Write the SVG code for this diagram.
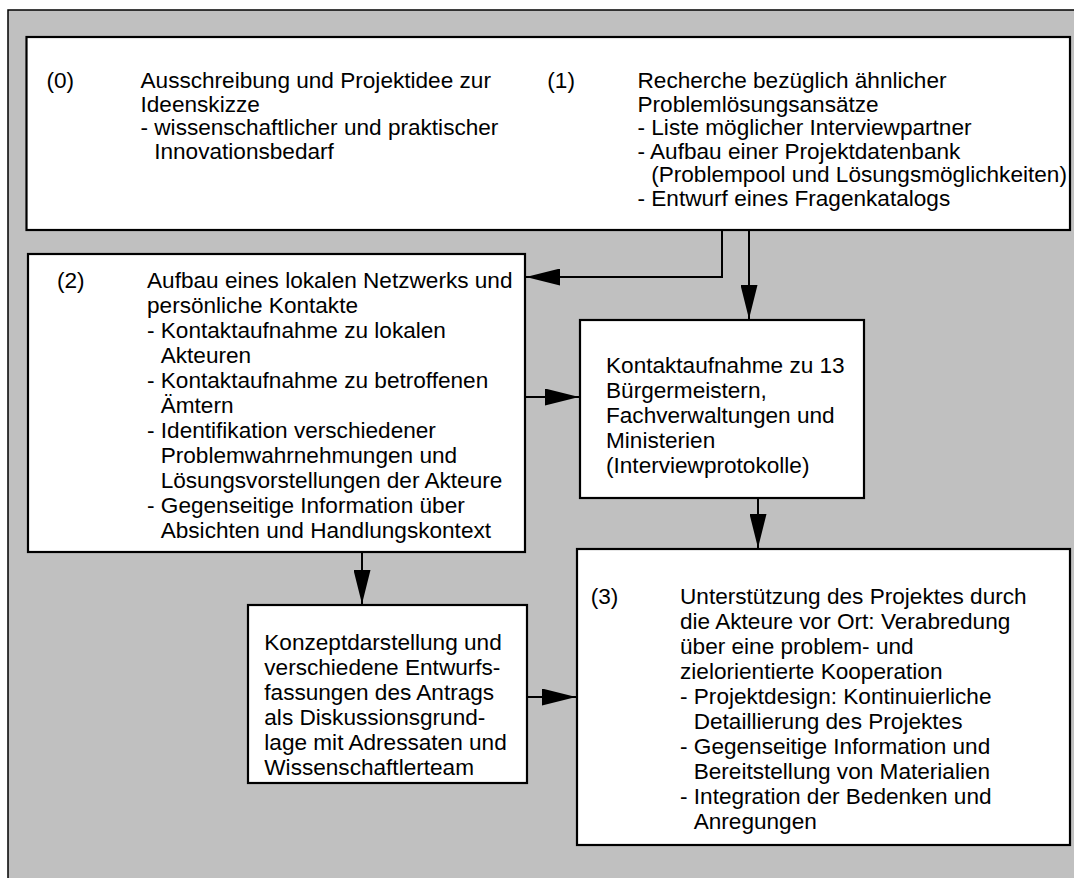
<svg xmlns="http://www.w3.org/2000/svg" width="1074" height="878" viewBox="0 0 1074 878">
<style>
.bg{fill:#c0c0c0;stroke:#000;stroke-width:1.5}
.box{fill:#fff;stroke:#000;stroke-width:2.2}
.t{font-family:"Liberation Sans",Arial,sans-serif;font-size:22.6px;fill:#000}
.c{fill:none;stroke:#000;stroke-width:2}
</style>
<defs>
<marker id="ah" markerUnits="userSpaceOnUse" markerWidth="34" markerHeight="17" refX="34" refY="8.5" orient="auto">
<path d="M0,0 L34,8.5 L0,17 z" fill="#000"/>
</marker>
</defs>
<rect width="1074" height="878" fill="#fff"/>
<rect class="bg" x="8" y="10" width="1080" height="880"/>

<g id="connectors">
<polyline class="c" points="722,226 722,277 526,277" marker-end="url(#ah)"/>
<line class="c" x1="749" y1="226" x2="749" y2="319" marker-end="url(#ah)"/>
<line class="c" x1="525" y1="397" x2="579" y2="397" marker-end="url(#ah)"/>
<line class="c" x1="758" y1="498" x2="758" y2="548" marker-end="url(#ah)"/>
<line class="c" x1="362" y1="539" x2="362" y2="604" marker-end="url(#ah)"/>
<line class="c" x1="527" y1="697" x2="576" y2="697" marker-end="url(#ah)"/>
</g>

<g id="node-0-1">
<rect class="box" x="26.5" y="37" width="1043.5" height="193"/>
<text class="t" x="46.5" y="88">(0)</text>
<text class="t">
<tspan x="140.5" y="88">Ausschreibung und Projektidee zur</tspan>
<tspan x="140.5" y="111.5">Ideenskizze</tspan>
<tspan x="140.5" y="135">- wissenschaftlicher und praktischer</tspan>
<tspan x="154.2" y="158.5">Innovationsbedarf</tspan>
</text>
<text class="t" x="547.3" y="88">(1)</text>
<text class="t">
<tspan x="637.5" y="88">Recherche bezüglich ähnlicher</tspan>
<tspan x="637.5" y="111.5">Problemlösungsansätze</tspan>
<tspan x="637.5" y="135">- Liste möglicher Interviewpartner</tspan>
<tspan x="637.5" y="158.5">- Aufbau einer Projektdatenbank</tspan>
<tspan x="651.2" y="182">(Problempool und Lösungsmöglichkeiten)</tspan>
<tspan x="637.5" y="205.5">- Entwurf eines Fragenkatalogs</tspan>
</text>
</g>

<g id="node-2">
<rect class="box" x="28" y="254" width="497" height="298"/>
<text class="t" x="57" y="288">(2)</text>
<text class="t">
<tspan x="147" y="288">Aufbau eines lokalen Netzwerks und</tspan>
<tspan x="147" y="313">persönliche Kontakte</tspan>
<tspan x="147" y="338">- Kontaktaufnahme zu lokalen</tspan>
<tspan x="160.7" y="363">Akteuren</tspan>
<tspan x="147" y="388">- Kontaktaufnahme zu betroffenen</tspan>
<tspan x="160.7" y="413">Ämtern</tspan>
<tspan x="147" y="438">- Identifikation verschiedener</tspan>
<tspan x="160.7" y="463">Problemwahrnehmungen und</tspan>
<tspan x="160.7" y="488">Lösungsvorstellungen der Akteure</tspan>
<tspan x="147" y="513">- Gegenseitige Information über</tspan>
<tspan x="160.7" y="538">Absichten und Handlungskontext</tspan>
</text>
</g>

<g id="node-kontakt">
<rect class="box" x="580" y="320" width="284" height="178"/>
<text class="t">
<tspan x="606" y="373">Kontaktaufnahme zu 13</tspan>
<tspan x="606" y="398">Bürgermeistern,</tspan>
<tspan x="606" y="423">Fachverwaltungen und</tspan>
<tspan x="606" y="448">Ministerien</tspan>
<tspan x="606" y="473">(Interviewprotokolle)</tspan>
</text>
</g>

<g id="node-konzept">
<rect class="box" x="248" y="605" width="279" height="178"/>
<text class="t">
<tspan x="264.3" y="650">Konzeptdarstellung und</tspan>
<tspan x="264.3" y="675">verschiedene Entwurfs-</tspan>
<tspan x="264.3" y="700">fassungen des Antrags</tspan>
<tspan x="264.3" y="725">als Diskussionsgrund-</tspan>
<tspan x="264.3" y="750">lage mit Adressaten und</tspan>
<tspan x="264.3" y="775">Wissenschaftlerteam</tspan>
</text>
</g>

<g id="node-3">
<rect class="box" x="577" y="549" width="493" height="296"/>
<text class="t" x="590.7" y="604">(3)</text>
<text class="t">
<tspan x="680" y="604">Unterstützung des Projektes durch</tspan>
<tspan x="680" y="629">die Akteure vor Ort: Verabredung</tspan>
<tspan x="680" y="654">über eine problem- und</tspan>
<tspan x="680" y="679">zielorientierte Kooperation</tspan>
<tspan x="680" y="704">- Projektdesign: Kontinuierliche</tspan>
<tspan x="693.7" y="729">Detaillierung des Projektes</tspan>
<tspan x="680" y="754">- Gegenseitige Information und</tspan>
<tspan x="693.7" y="779">Bereitstellung von Materialien</tspan>
<tspan x="680" y="804">- Integration der Bedenken und</tspan>
<tspan x="693.7" y="829">Anregungen</tspan>
</text>
</g>
</svg>
